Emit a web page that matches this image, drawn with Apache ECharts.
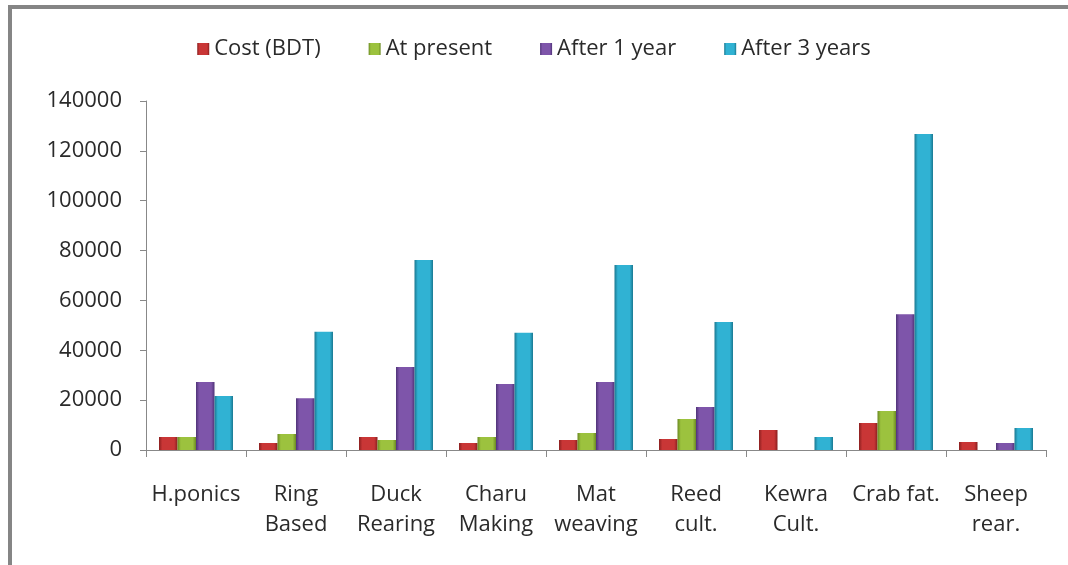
<!DOCTYPE html>
<html>
<head>
<meta charset="utf-8">
<title>Cost and income</title>
<script src="https://cdn.jsdelivr.net/npm/echarts@6/dist/echarts.min.js"></script>
<style>
  html, body { margin: 0; padding: 0; background: #fff; }
  #chart { width: 1068px; height: 565px; }
</style>
</head>
<body>
<div id="chart"></div>
<script>
// categories and values
var categories = ['H.ponics', 'Ring\nBased', 'Duck\nRearing', 'Charu\nMaking', 'Mat\nweaving',
                  'Reed\ncult.', 'Kewra\nCult.', 'Crab fat.', 'Sheep\nrear.'];
var costBDT     = [5200, 2800, 5200, 2800, 4000, 4400, 8000, 10800, 3200];
var atPresent   = [5200, 6400, 4000, 5200, 6800, 12400, 0, 15600, 0];
var after1Year  = [27300, 20800, 33300, 26500, 27300, 17200, 0, 54500, 2800];
var after3Years = [21700, 47400, 76200, 47000, 74200, 51300, 5200, 126800, 8800];

function barColor(edge, mid) {
    return new echarts.graphic.LinearGradient(0, 0, 1, 0, [
        {offset: 0, color: edge},
        {offset: 0.18, color: mid},
        {offset: 0.82, color: mid},
        {offset: 1, color: edge}
    ]);
}

function makeSeries(name, data, edge, mid, legendColor) {
    return {
        name: name,
        type: 'bar',
        data: data,
        barGap: '0%',
        barCategoryGap: '26%',
        color: legendColor,
        itemStyle: {
            color: barColor(edge, mid),
            borderWidth: 0
        }
    };
}

var myChart = echarts.init(document.getElementById('chart'));
var option = {
    backgroundColor: '#fff',
    textStyle: { fontFamily: 'Open Sans' },
    graphic: [
        { type: 'rect', shape: {x: 8, y: 5, width: 1060, height: 4}, style: {fill: '#858585'} },
        { type: 'rect', shape: {x: 8, y: 5, width: 4, height: 560}, style: {fill: '#858585'} }
    ],
    legend: {
        top: 33,
        left: 'center',
        itemWidth: 12,
        itemHeight: 12,
        itemGap: 48,
        icon: 'rect',
        textStyle: { fontSize: 22, color: '#2a2a2a', fontFamily: 'Open Sans' },
        data: ['Cost (BDT)', 'At present', 'After 1 year', 'After 3 years']
    },
    grid: { left: 146, right: 22, top: 101, bottom: 115 },
    xAxis: {
        type: 'category',
        data: categories,
        axisLine: { lineStyle: { color: '#888' } },
        axisTick: { show: true, length: 7, lineStyle: { color: '#888' } },
        axisLabel: {
            interval: 0,
            margin: 30,
            fontSize: 22,
            lineHeight: 30,
            color: '#2a2a2a'
        }
    },
    yAxis: {
        type: 'value',
        min: 0,
        max: 140000,
        interval: 20000,
        axisLine: { show: true, lineStyle: { color: '#888' } },
        axisTick: { show: true, length: 6, lineStyle: { color: '#888' } },
        splitLine: { show: false },
        axisLabel: {
            fontSize: 22,
            color: '#2a2a2a',
            margin: 24,
            formatter: function (value) { return String(value); }
        }
    },
    series: [
        makeSeries('Cost (BDT)', costBDT, '#8a1f1f', '#c93636', '#c0392b'),
        makeSeries('At present', atPresent, '#6b8a22', '#9cc23e', '#8fb23a'),
        makeSeries('After 1 year', after1Year, '#4f3378', '#7e55aa', '#7450a0'),
        makeSeries('After 3 years', after3Years, '#1b7890', '#30b2d3', '#2aa5c6')
    ]
};
myChart.setOption(option);
</script>
</body>
</html>
